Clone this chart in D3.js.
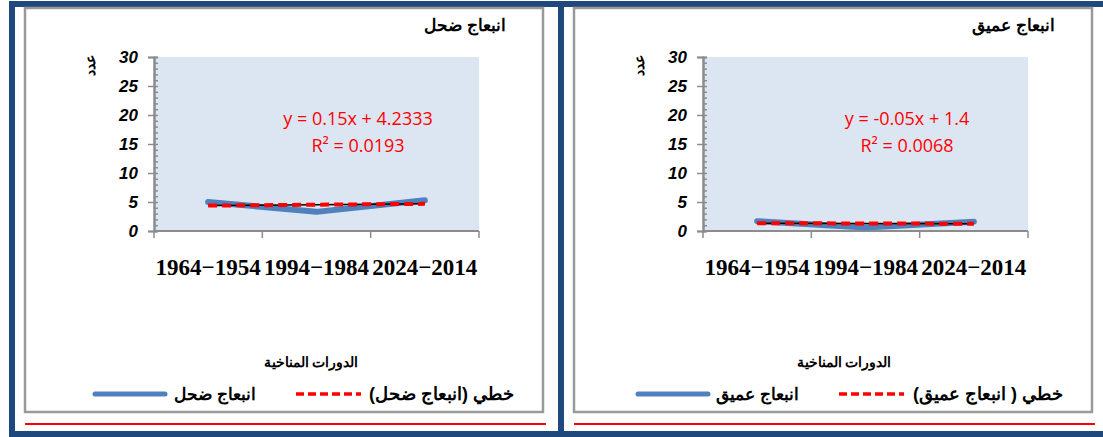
<!DOCTYPE html>
<html>
<head>
<meta charset="utf-8">
<script src="https://cdn.jsdelivr.net/npm/d3@7"></script>
<style>
  body { margin: 0; background: #fff; }
  svg { display: block; }
</style>
</head>
<body>
<div id="chart"></div>
<script>
// data
const categories = ['1964\u22121954', '1994\u22121984', '2024\u22122014'];
const shallowValues = [5.0, 3.3, 5.3];
const deepValues = [1.7, 0.6, 1.6];
const yTicks = [0, 5, 10, 15, 20, 25, 30];
const panelTitles = ['انبعاج ضحل', 'انبعاج عميق'];
const seriesNames = ['انبعاج ضحل', 'انبعاج عميق'];
const trendNames = ['خطي (انبعاج ضحل)', 'خطي ( انبعاج عميق)'];
const equations = ['y = 0.15x + 4.2333', 'y = -0.05x + 1.4'];
const rSquared = ['R² = 0.0193', 'R² = 0.0068'];
const xTitle = 'الدورات المناخية';
const yTitle = 'عدد';

const W = 1103, H = 437;
const frameBlue = '#1F497D';
const plotBg = '#DCE6F2';
const lineBlue = '#4F81BD';

const svg = d3.select('#chart').append('svg')
    .attr('width', W)
    .attr('height', H);

// outer blue frame
svg.append('rect').attr('x', 9).attr('y', 1).attr('width', W - 9).attr('height', 6).attr('fill', frameBlue);
svg.append('rect').attr('x', 9).attr('y', 1).attr('width', 6).attr('height', H - 1).attr('fill', frameBlue);
svg.append('rect').attr('x', 558).attr('y', 1).attr('width', 6).attr('height', H - 1).attr('fill', frameBlue);
svg.append('rect').attr('x', 9).attr('y', 431).attr('width', W - 9).attr('height', 6).attr('fill', frameBlue);

function linearFit(vals) {
    const xs = vals.map((v, i) => i + 1);
    const mx = d3.mean(xs), my = d3.mean(vals);
    const b = d3.sum(xs, (x, i) => (x - mx) * (vals[i] - my)) / d3.sum(xs, x => (x - mx) * (x - mx));
    const a = my - b * mx;
    return xs.map(x => a + b * x);
}

// right-aligned arabic text (rtl: start = right edge)
function rtlText(sel, x, y, txt, size) {
    return sel.append('text')
        .attr('x', x).attr('y', y)
        .attr('direction', 'rtl')
        .attr('text-anchor', 'start')
        .attr('font-family', 'Arial, "Liberation Sans", sans-serif')
        .attr('font-weight', 'bold')
        .attr('font-size', size)
        .attr('fill', '#000')
        .text(txt);
}

function drawPanel(ox, idx, values, opt) {
    // ox = left of chart box
    const g = svg.append('g').attr('transform', `translate(${ox},0)`);

    // chart box
    g.append('rect')
        .attr('x', 0).attr('y', 8)
        .attr('width', 518).attr('height', 404)
        .attr('fill', '#fff')
        .attr('stroke', '#9A9A9A')
        .attr('stroke-width', 2.5);

    // red rule under box
    g.append('line')
        .attr('x1', 0).attr('x2', 521)
        .attr('y1', 424).attr('y2', 424)
        .attr('stroke', '#FF0000').attr('stroke-width', 2);

    rtlText(g, 481, 31, panelTitles[idx], '17px');

    const plotL = 129, plotR = 454, plotT = 57, plotB = 231;

    const x = d3.scaleBand().domain(categories).range([plotL, plotR]);
    const y = d3.scaleLinear().domain([0, 30]).range([plotB, plotT]);

    g.append('rect')
        .attr('x', plotL).attr('y', plotT)
        .attr('width', plotR - plotL).attr('height', plotB - plotT)
        .attr('fill', plotBg);

    // y axis: major ticks outward, minor ticks inward
    const yAxis = g.append('g').attr('transform', `translate(${plotL},0)`);
    yAxis.call(d3.axisLeft(y).tickValues(yTicks).tickSize(6).tickFormat(''));
    yAxis.append('g').call(d3.axisRight(y).tickValues(d3.range(0, 31, 1)).tickSize(4).tickFormat(''));
    yAxis.selectAll('.domain').attr('stroke', '#8C8C8C').attr('stroke-width', 2);
    yAxis.selectAll('line').attr('stroke', '#8C8C8C').attr('stroke-width', 1.5);

    g.append('g').selectAll('text').data(yTicks).join('text')
        .attr('x', plotL - 16)
        .attr('y', d => y(d) + 6)
        .attr('text-anchor', 'end')
        .attr('font-family', 'Arial, "Liberation Sans", sans-serif')
        .attr('font-weight', 'bold')
        .attr('font-style', 'italic')
        .attr('font-size', '17px')
        .attr('fill', '#000')
        .text(d => d);

    // y title
    g.append('text')
        .attr('transform', `translate(${70},${65}) rotate(-90)`)
        .attr('text-anchor', 'middle')
        .attr('direction', 'rtl')
        .attr('font-family', 'Arial, "Liberation Sans", sans-serif')
        .attr('font-weight', 'bold')
        .attr('font-size', '14px')
        .attr('fill', '#000')
        .text(yTitle);

    // x axis
    const xAxis = g.append('g').attr('transform', `translate(0,${plotB})`);
    xAxis.append('line')
        .attr('x1', plotL).attr('x2', plotR)
        .attr('stroke', '#8C8C8C').attr('stroke-width', 2);
    xAxis.selectAll('line.tk').data(d3.range(categories.length + 1)).join('line')
        .attr('class', 'tk')
        .attr('x1', i => plotL + i * x.step()).attr('x2', i => plotL + i * x.step())
        .attr('y1', 0).attr('y2', 7)
        .attr('stroke', '#8C8C8C').attr('stroke-width', 1.5);
    xAxis.selectAll('text').data(categories).join('text')
        .attr('x', d => x(d) + x.bandwidth() / 2)
        .attr('y', 44)
        .attr('text-anchor', 'middle')
        .attr('font-family', '"Liberation Serif", "Times New Roman", serif')
        .attr('font-weight', 'bold')
        .attr('font-size', '23px')
        .attr('fill', '#000')
        .text(d => d);

    // series line
    const cx = (d, i) => x(categories[i]) + x.bandwidth() / 2;
    const line = d3.line().x(cx).y(d => y(d));
    g.append('path')
        .datum(values)
        .attr('d', line)
        .attr('fill', 'none')
        .attr('stroke', lineBlue)
        .attr('stroke-width', 6)
        .attr('stroke-linecap', 'round')
        .attr('stroke-linejoin', 'round');

    // linear trendline
    const fit = linearFit(values);
    g.append('path')
        .datum(fit)
        .attr('d', line)
        .attr('fill', 'none')
        .attr('stroke', '#000')
        .attr('stroke-width', 1.5);
    g.append('path')
        .datum(fit)
        .attr('d', line)
        .attr('fill', 'none')
        .attr('stroke', '#FF0000')
        .attr('stroke-width', 4)
        .attr('stroke-dasharray', '9,5');

    // equation
    const eq = g.append('g')
        .attr('font-family', '"Open Sans", "Liberation Sans", sans-serif')
        .attr('font-size', '18px')
        .attr('fill', '#FF0000')
        .attr('text-anchor', 'middle');
    eq.append('text').attr('x', 333).attr('y', 125).text(equations[idx]);
    eq.append('text').attr('x', 333).attr('y', 152).text(rSquared[idx]);

    // x title
    g.append('text')
        .attr('x', opt.xTitleX).attr('y', 367)
        .attr('text-anchor', 'middle')
        .attr('direction', 'rtl')
        .attr('font-family', 'Arial, "Liberation Sans", sans-serif')
        .attr('font-weight', 'bold')
        .attr('font-size', '14px')
        .attr('fill', '#000')
        .text(xTitle);

    // legend
    const s = opt.legendShift;
    rtlText(g, 489, 400, trendNames[idx], '18px');
    g.append('line')
        .attr('x1', 271 + s).attr('x2', 336 + s).attr('y1', 394).attr('y2', 394)
        .attr('stroke', '#FF0000').attr('stroke-width', 3.5)
        .attr('stroke-dasharray', '8,4');
    rtlText(g, 231 + s, 400, seriesNames[idx], '17px');
    g.append('line')
        .attr('x1', 70 + s).attr('x2', 140 + s).attr('y1', 394).attr('y2', 394)
        .attr('stroke', lineBlue).attr('stroke-width', 5)
        .attr('stroke-linecap', 'round');
}

drawPanel(25, 0, shallowValues, { xTitleX: 286, legendShift: 0 });
drawPanel(574, 1, deepValues, { xTitleX: 270, legendShift: -6 });
</script>
</body>
</html>
